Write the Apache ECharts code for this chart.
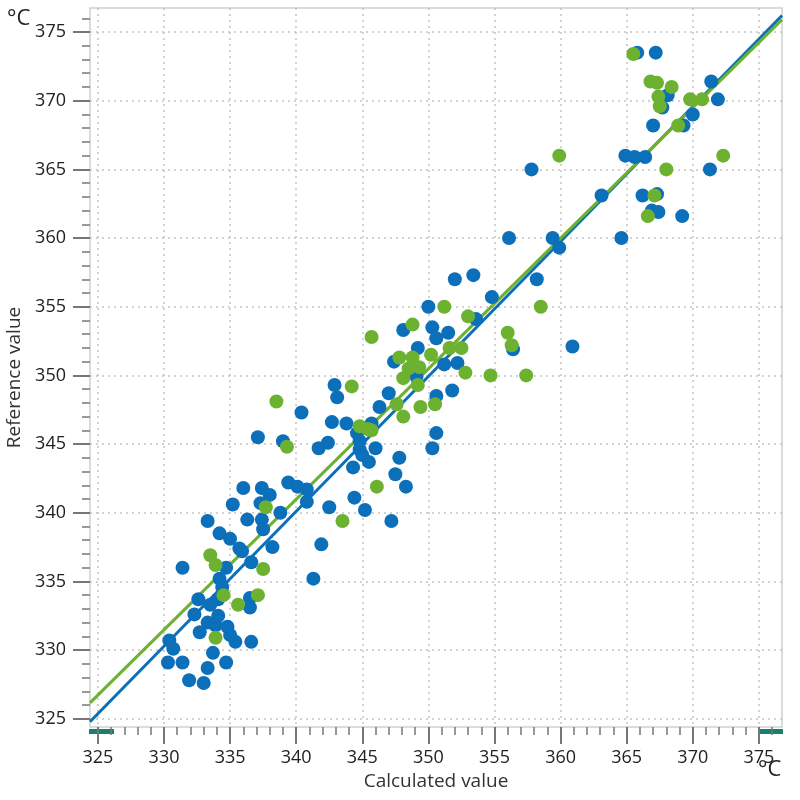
<!DOCTYPE html>
<html>
<head>
<meta charset="utf-8">
<script src="https://cdn.jsdelivr.net/npm/echarts@6/dist/echarts.min.js"></script>
<style>
html,body{margin:0;padding:0;background:#fff;}
#chart{width:800px;height:800px;}
</style>
</head>
<body>
<div id="chart"></div>
<script>
// Axis extent and ticks
var axisMin = 324.4;
var axisMax = 376.75;
var majorTicks = [325, 330, 335, 340, 345, 350, 355, 360, 365, 370, 375];
var minorTicks = [325,326,327,328,329,330,331,332,333,334,335,336,337,338,339,340,341,342,343,344,345,346,347,348,349,350,351,352,353,354,355,356,357,358,359,360,361,362,363,364,365,366,367,368,369,370,371,372,373,374,375,376];

// Blue series: [calculated, reference]
var bluePoints = [
  [365.8,373.5],[367.2,373.5],[368.1,370.4],[367.7,369.5],[371.4,371.4],[371.9,370.1],[370.0,369.0],
  [367.0,368.2],[369.3,368.2],[364.9,366.0],[365.6,365.9],[366.4,365.9],[371.3,365.0],[363.1,363.1],
  [366.2,363.1],[367.3,363.2],[366.9,362.0],[367.4,361.9],[369.2,361.6],
  [357.8,365.0],[356.1,360.0],[359.4,360.0],[359.9,359.3],[364.6,360.0],[358.2,357.0],[354.8,355.7],
  [352.0,357.0],[353.4,357.3],[350.0,355.0],[353.6,354.1],[348.1,353.3],[350.3,353.5],[351.5,353.1],
  [350.6,352.7],[356.4,351.9],[349.2,352.0],[347.4,351.0],[351.2,350.8],[352.2,350.9],[349.1,349.9],
  [347.0,348.7],[351.8,348.9],[346.3,347.7],[350.6,348.5],[350.6,345.8],[350.3,344.7],[360.9,352.1],
  [342.9,349.3],[343.1,348.4],[340.4,347.3],[342.7,346.6],[343.8,346.5],[345.7,346.5],[344.6,345.8],
  [337.1,345.5],[339.0,345.2],[342.4,345.1],[341.7,344.7],[344.8,345.2],[344.8,344.6],[346.0,344.7],
  [345.0,344.2],[345.5,343.7],[347.8,344.0],[344.3,343.3],[347.5,342.8],[348.3,341.9],[336.0,341.8],
  [337.4,341.8],[338.0,341.3],[339.4,342.2],[340.1,341.9],[340.8,341.7],[340.8,340.8],[337.3,340.7],
  [344.4,341.1],[345.2,340.2],[342.5,340.4],[338.8,340.0],[336.3,339.5],[337.4,339.5],[347.2,339.4],
  [337.5,338.8],[341.9,337.7],[338.2,337.5],[335.7,337.4],[341.3,335.2],
  [335.2,340.6],[333.3,339.4],[334.2,338.5],[335.0,338.1],[335.9,337.2],[334.7,336.0],[336.6,336.4],
  [331.4,336.0],[334.2,335.2],[334.4,334.6],[332.6,333.7],[333.5,333.3],[334.1,333.7],[336.5,333.8],
  [336.5,333.1],[332.3,332.6],[334.1,332.5],[333.3,332.0],[333.9,331.8],[334.8,331.7],[332.7,331.3],
  [335.0,331.1],[335.4,330.6],[336.6,330.6],[330.4,330.7],[330.7,330.1],[333.7,329.8],[330.3,329.1],
  [331.4,329.1],[334.7,329.1],[333.3,328.7],[331.9,327.8],[333.0,327.6]
];

// Green series: [calculated, reference]
var greenPoints = [
  [365.5,373.4],[366.8,371.4],[367.3,371.3],[368.4,371.0],[367.4,370.3],[367.5,369.6],[369.8,370.1],
  [370.7,370.1],[368.9,368.2],[372.3,366.0],[368.0,365.0],[367.1,363.1],[366.6,361.6],
  [359.9,366.0],[358.5,355.0],[351.2,355.0],[353.0,354.3],[348.8,353.7],[356.0,353.1],[356.3,352.2],
  [351.6,352.0],[352.5,352.0],[347.8,351.3],[348.8,351.3],[350.2,351.5],[348.5,350.5],[349.3,350.6],
  [348.1,349.8],[349.2,349.3],[352.8,350.2],[354.7,350.0],[357.4,350.0],[347.6,347.9],[350.5,347.9],
  [349.4,347.7],[348.1,347.0],[345.7,352.8],
  [344.2,349.2],[338.5,348.1],[344.8,346.3],[345.4,346.1],[345.7,346.0],[339.3,344.8],[346.1,341.9],
  [337.7,340.4],[343.5,339.4],
  [333.5,336.9],[333.9,336.2],[337.5,335.9],[334.5,334.0],[335.6,333.3],[337.1,334.0],[333.9,330.9]
];

// Regression lines (endpoints at the plot edges)
var blueFit = [[324.4, 324.78], [376.75, 376.2]];
var greenFit = [[324.4, 326.16], [376.75, 375.9]];

var blueColor = '#0b6fba';
var greenColor = '#6db130';
var fontFam = '"Open Sans", "Noto Sans", sans-serif';

var chart = echarts.init(document.getElementById('chart'), null, {renderer: 'canvas'});

function mainAxis(isX) {
  return {
    type: 'value',
    gridIndex: 0,
    position: isX ? 'bottom' : 'left',
    min: axisMin,
    max: axisMax,
    name: isX ? 'Calculated value' : 'Reference value',
    nameLocation: 'middle',
    nameGap: isX ? 44 : 65,
    nameTextStyle: isX
      ? {fontFamily: fontFam, fontSize: 19, color: '#333'}
      : {fontFamily: fontFam, fontSize: 19, color: '#333', padding: [0, 0, 0, -20]},
    axisLine: {show: false},
    axisTick: {show: true, customValues: majorTicks, length: 17, lineStyle: {color: '#777', width: 2}},
    axisLabel: {show: true, customValues: majorTicks, margin: isX ? 22 : 24, fontFamily: fontFam, fontSize: 18, color: '#222'},
    splitLine: {show: true, lineStyle: {color: '#c4c4c4', width: 1.5, type: [2, 4]}},
    minorTick: {show: false},
    minorSplitLine: {show: false}
  };
}
function minorAxis(isX) {
  return {
    type: 'value',
    gridIndex: 0,
    position: isX ? 'bottom' : 'left',
    offset: 0,
    min: axisMin,
    max: axisMax,
    axisLine: {show: false},
    axisTick: {show: true, customValues: minorTicks, length: 8, lineStyle: {color: '#777', width: 1.5}},
    axisLabel: {show: false},
    splitLine: {show: false}
  };
}

chart.setOption({
  backgroundColor: '#fff',
  animation: false,
  grid: {
    left: 90, right: 18, top: 8, bottom: 73,
    outerBoundsMode: 'none',
    containLabel: false,
    show: true, borderColor: '#cfcfcf', borderWidth: 1.5, backgroundColor: 'transparent'
  },
  xAxis: [mainAxis(true), minorAxis(true)],
  yAxis: [mainAxis(false), minorAxis(false)],
  graphic: [
    {type: 'text', left: 7, top: 8, style: {text: '°C', fontFamily: fontFam, fontSize: 22, fill: '#222'}},
    {type: 'text', left: 758, top: 759, style: {text: '°C', fontFamily: fontFam, fontSize: 22, fill: '#222'}},
    {type: 'rect', shape: {x: 89, y: 729, width: 25, height: 5}, style: {fill: '#17806f'}},
    {type: 'rect', shape: {x: 758, y: 729, width: 25, height: 5}, style: {fill: '#17806f'}}
  ],
  series: [
    {
      type: 'line', xAxisIndex: 0, yAxisIndex: 0, data: blueFit,
      symbol: 'none', lineStyle: {color: blueColor, width: 3}, z: 2, clip: true, silent: true
    },
    {
      type: 'line', xAxisIndex: 0, yAxisIndex: 0, data: greenFit,
      symbol: 'none', lineStyle: {color: greenColor, width: 3}, z: 2, clip: true, silent: true
    },
    {
      type: 'scatter', xAxisIndex: 0, yAxisIndex: 0, data: bluePoints,
      symbolSize: 14, itemStyle: {color: blueColor, opacity: 1}, z: 3
    },
    {
      type: 'scatter', xAxisIndex: 0, yAxisIndex: 0, data: greenPoints,
      symbolSize: 14, itemStyle: {color: greenColor, opacity: 1}, z: 4
    }
  ]
});
</script>
</body>
</html>
